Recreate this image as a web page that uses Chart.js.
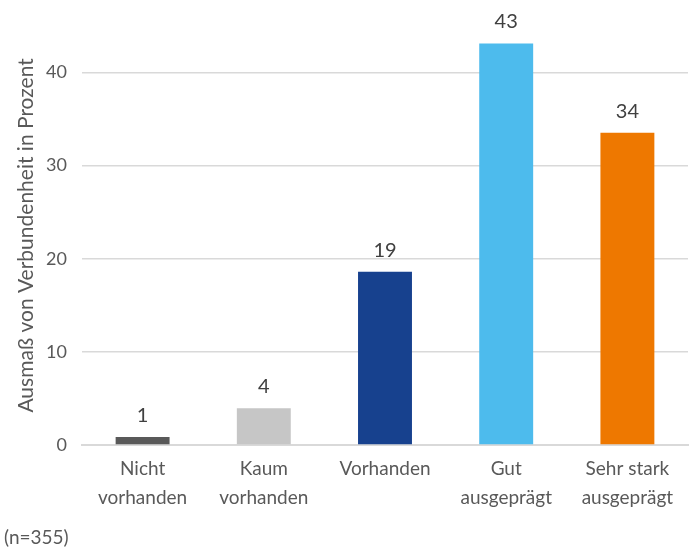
<!DOCTYPE html>
<html>
<head>
<meta charset="utf-8">
<script src="https://cdn.jsdelivr.net/npm/chart.js@4.4.0/dist/chart.umd.min.js"></script>
<style>
  html, body { margin: 0; padding: 0; background: #fff; }
  #wrap { position: relative; width: 691px; height: 552px; }
</style>
</head>
<body>
<div id="wrap"><canvas id="chart"></canvas></div>
<script>
// Verbundenheit, n=355, Anteile in Prozent
const categories = [
  ["Nicht", "vorhanden"],
  ["Kaum", "vorhanden"],
  "Vorhanden",
  ["Gut", "ausgeprägt"],
  ["Sehr stark", "ausgeprägt"]
];
const percentValues = [0.85, 3.94, 18.59, 43.1, 33.52];
const barColors = ["#595959", "#c6c6c6", "#17418e", "#4dbbed", "#ee7800"];
const yTicks = [0, 10, 20, 30, 40];
const noteText = "(n=355)";

const textColor = "#595959";
const fontFamily = "Lato, 'Open Sans', sans-serif";

// labels above bars + sample size note
const valueLabels = {
  id: "valueLabels",
  afterDatasetsDraw(chart) {
    const ctx = chart.ctx;
    const meta = chart.getDatasetMeta(0);
    ctx.save();
    ctx.fillStyle = "#404040";
    ctx.font = "20px " + fontFamily;
    ctx.textAlign = "center";
    ctx.textBaseline = "alphabetic";
    meta.data.forEach((bar, i) => {
      ctx.fillText(Math.round(percentValues[i]), bar.x, bar.y - 15);
    });
    ctx.fillStyle = textColor;
    ctx.font = "19px " + fontFamily;
    ctx.textAlign = "left";
    ctx.textBaseline = "middle";
    ctx.fillText(noteText, 4, 538);
    ctx.restore();
  }
};

new Chart(document.getElementById("chart"), {
  type: "bar",
  data: {
    labels: categories,
    datasets: [{
      data: percentValues,
      backgroundColor: barColors,
      categoryPercentage: 1,
      barPercentage: 0.445
    }]
  },
  options: {
    responsive: true,
    maintainAspectRatio: false,
    animation: false,
    layout: { padding: { top: 5, right: 3, bottom: 30, left: 0 } },
    plugins: {
      legend: { display: false },
      tooltip: { enabled: false }
    },
    scales: {
      x: {
        grid: { display: false, drawTicks: false },
        border: { color: "#d9d9d9", width: 2 },
        ticks: {
          color: textColor,
          font: { size: 19, family: fontFamily, lineHeight: 1.5 },
          padding: 10,
          maxRotation: 0,
          autoSkip: false
        }
      },
      y: {
        min: 0,
        max: 45,
        afterBuildTicks(scale) {
          scale.ticks = yTicks.map(v => ({ value: v }));
        },
        afterFit(scale) { scale.width = 82; },
        grid: { color: "#d9d9d9", lineWidth: 1.5, drawTicks: false },
        border: { display: false },
        ticks: {
          color: textColor,
          font: { size: 18, family: fontFamily },
          padding: 15
        },
        title: {
          display: true,
          text: "Ausmaß von Verbundenheit in Prozent",
          color: textColor,
          font: { size: 21, family: fontFamily },
          padding: { top: 14, bottom: 0 }
        }
      }
    }
  },
  plugins: [valueLabels]
});
</script>
</body>
</html>
